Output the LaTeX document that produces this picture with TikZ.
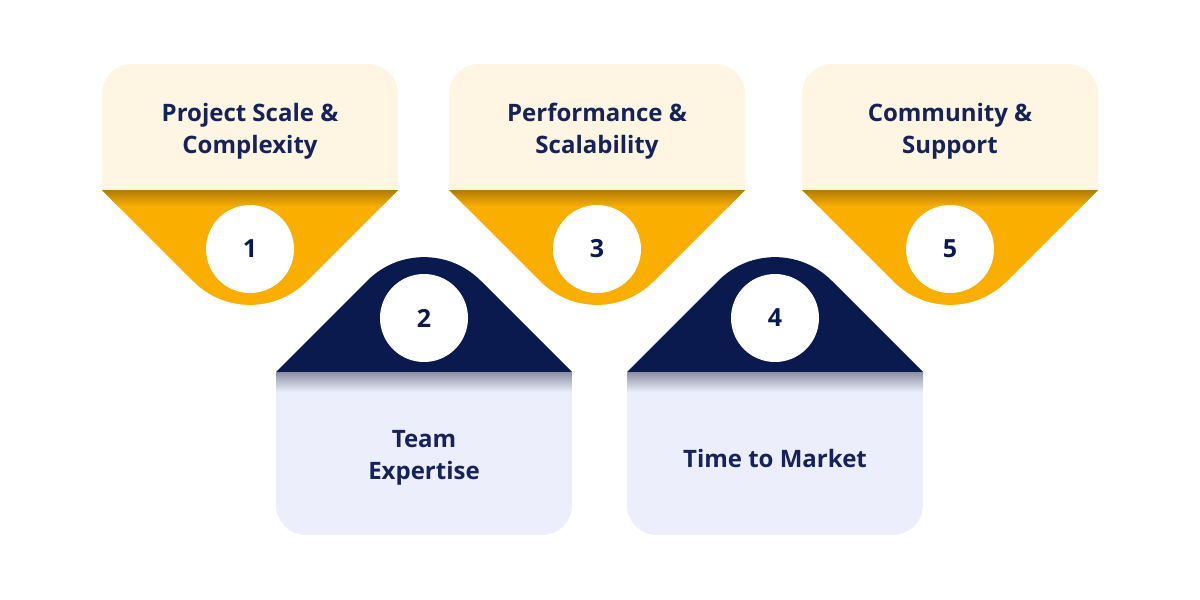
\documentclass[tikz,border=0pt]{standalone}
\usepackage{fontspec}
\setmainfont{Open Sans}
\usepackage{tikz}
\usetikzlibrary{positioning}

\definecolor{gold}{HTML}{F9AE00}
\definecolor{golddark}{HTML}{B07C08}
\definecolor{cream}{HTML}{FEF5E2}
\definecolor{navy}{HTML}{0A1A4F}
\definecolor{navytext}{HTML}{16225A}
\definecolor{lavender}{HTML}{ECEFFB}
\definecolor{lavshade}{HTML}{8C90A3}

\tikzset{
  numcircle/.style={circle, fill=white, minimum size=88pt, inner sep=0pt,
    text=navy, font=\bfseries\fontsize{25}{28}\selectfont},
  cardtext/.style={align=center, text=navytext,
    font=\bfseries\fontsize{24}{32}\selectfont}
}

\begin{document}
\begin{tikzpicture}[x=1pt, y=-1pt]
  % canvas in pixel units, y pointing down
  \def\hw{148}      % half width of a card
  \def\rc{30}       % rounding of the boxes
  \fill[white] (0,0) rectangle (1200,600);
  \useasboundingbox (0,0) rectangle (1200,600);
  % upper cards: cream box over a gold funnel
  \foreach \cx/\n/\txt in {250/1/{Project Scale \&\\Complexity},
                           597/3/{Performance \&\\Scalability},
                           950/5/{Community \&\\Support}}{
    \fill[cream, rounded corners=\rc pt] (\cx-\hw,190) -- (\cx-\hw,64) -- (\cx+\hw,64)
      [sharp corners] -- (\cx+\hw,190) -- cycle;
    \fill[cream] (\cx-\hw,120) rectangle (\cx+\hw,190);
    \begin{scope}
      \clip (\cx-\hw,190) [rounded corners=80pt] -- (\cx,338) [sharp corners] -- (\cx+\hw,190) -- cycle;
      \fill[gold] (\cx-\hw,190) rectangle (\cx+\hw,340);
      \shade[top color=golddark, bottom color=gold] (\cx-\hw,190) rectangle (\cx+\hw,206);
    \end{scope}
    \node[cardtext] (lbl\n) at (\cx,131) {\txt};
    \node[numcircle] (num\n) at (\cx,249) {\n};
  }
  % lower cards: navy roof over a lavender box
  \foreach \cx/\n/\txt in {424/2/{Team\\Expertise},
                           775/4/{Time to Market}}{
    \fill[navy] (\cx-\hw,372) [rounded corners=80pt] -- (\cx,224) [sharp corners] -- (\cx+\hw,372) -- cycle;
    \begin{scope}
      \clip[rounded corners=\rc pt] (\cx-\hw,372) -- (\cx-\hw,535) -- (\cx+\hw,535)
        [sharp corners] -- (\cx+\hw,372) -- cycle;
      \fill[lavender] (\cx-\hw,372) rectangle (\cx+\hw,535);
      \shade[top color=lavshade, bottom color=lavender] (\cx-\hw,372) rectangle (\cx+\hw,392);
    \end{scope}
    \node[cardtext] (lbl\n) at (\cx,458) {\txt};
    \node[numcircle] (num\n) at (\cx,318) {\n};
  }
\end{tikzpicture}
\end{document}
